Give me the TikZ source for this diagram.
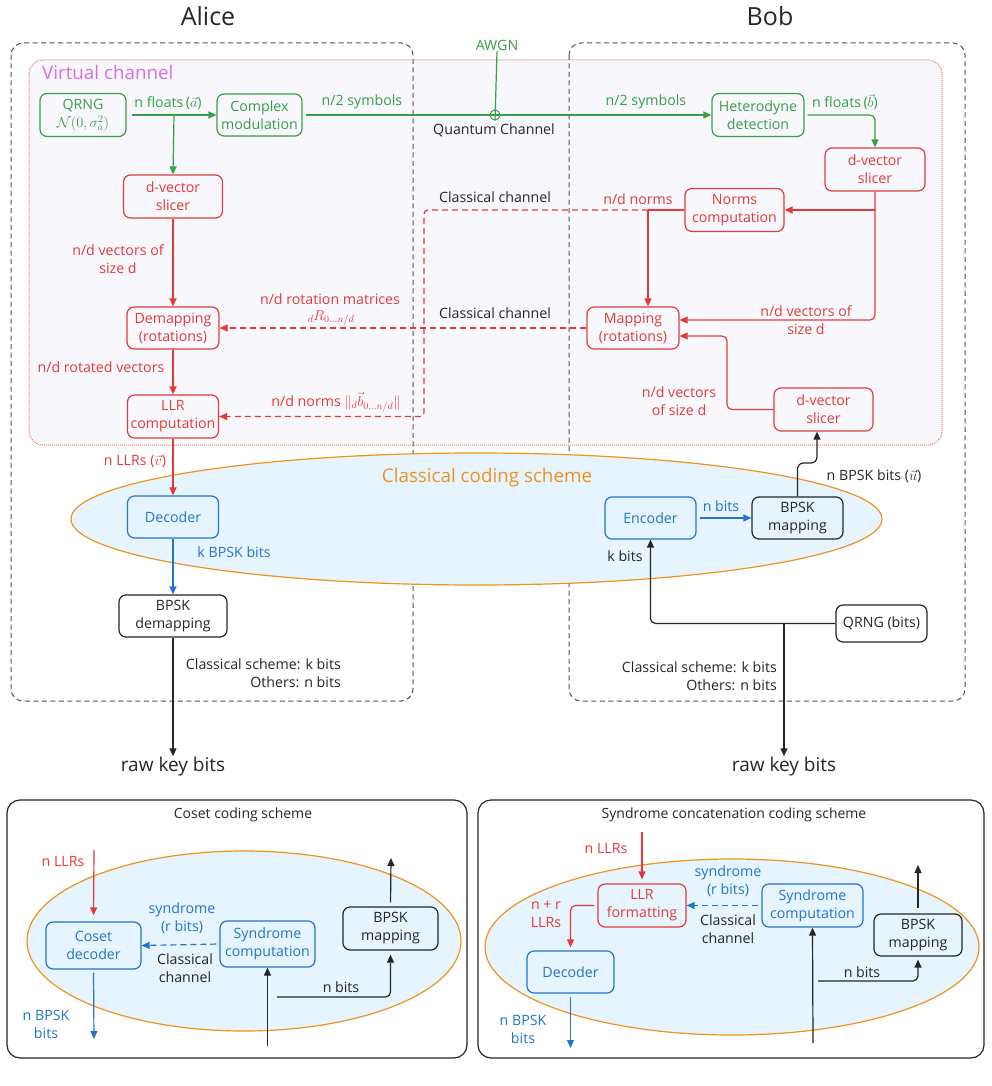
\documentclass[tikz,border=0pt]{standalone}
\usepackage{fontspec}
\setmainfont{Open Sans}
\usetikzlibrary{arrows.meta,calc}
\definecolor{cgreen}{RGB}{56,158,72}
\definecolor{cred}{RGB}{226,58,58}
\definecolor{cblue}{RGB}{36,116,200}
\definecolor{corange}{RGB}{240,146,30}
\definecolor{cviolet}{RGB}{214,110,232}
\definecolor{cdark}{RGB}{38,38,38}
\definecolor{cgray}{RGB}{85,85,85}
\definecolor{cpink}{RGB}{240,120,120}
\definecolor{cvfill}{RGB}{248,248,252}
\definecolor{cefill}{RGB}{230,244,253}
\newcommand\fmain{\fontsize{14.2}{18}\selectfont}
\newcommand\fsmall{\fontsize{14}{18}\selectfont}
\begin{document}
\begin{tikzpicture}[x=1pt,y=-1pt,
  sz/.style 2 args={minimum width=#1pt, minimum height=#2pt},
  box/.style={draw, rounded corners=7pt, line width=1.2pt, align=center, inner sep=1pt, font=\fmain},
  gbox/.style={box, draw=cgreen, text=cgreen},
  rbox/.style={box, draw=cred, text=cred},
  bbox/.style={box, draw=cblue, text=cblue},
  kbox/.style={box, draw=cdark, text=cdark},
  lbl/.style={font=\fmain, inner sep=1pt, align=center},
  tipa/.style={-{Triangle[length=8pt,width=7pt]}},
  dsh/.style={dash pattern=on 6pt off 4pt},
  gline/.style={draw=cgreen, line width=1.2pt},
  rline/.style={draw=cred, line width=1.2pt},
  bline/.style={draw=cblue, line width=1.2pt},
  kline/.style={draw=cdark, line width=1.2pt},
  garrow/.style={gline, tipa},
  rarrow/.style={rline, tipa},
  barrow/.style={bline, tipa},
  karrow/.style={kline, tipa},
]
\useasboundingbox (0,0) rectangle (991,1086);
\fill[white] (0,0) rectangle (991,1086);

% virtual channel
\draw[cpink, densely dotted, line width=1pt, fill=cvfill, rounded corners=14pt] (29,60) rectangle (942,445);
\node[font=\fontsize{18.8}{22}\selectfont, text=cviolet, anchor=west, inner sep=0] (vc) at (42,72) {Virtual channel};

% Alice / Bob boxes
\draw[cgray, dash pattern=on 5pt off 3.5pt, line width=1pt, rounded corners=12pt] (11,43) rectangle (413,701);
\draw[cgray, dash pattern=on 5pt off 3.5pt, line width=1pt, rounded corners=12pt] (569,43) rectangle (965,701);
\node[font=\fontsize{25}{28}\selectfont, text=cdark] (alice) at (208,16) {Alice};
\node[font=\fontsize{25}{28}\selectfont, text=cdark] (bob) at (770,16) {Bob};

% ellipse
\draw[corange, line width=1.2pt, fill=cefill] (476.5,519) ellipse [x radius=405.5, y radius=66];
\node[font=\fontsize{18.8}{22}\selectfont, text=corange] (ccs) at (487,478) {Classical coding scheme};

% green nodes
\node[gbox, sz={86}{43}] (qrng) at (83,115) {QRNG\\$\mathcal{N}(0,\sigma_a^2)$};
\node[gbox, sz={85}{42}] (cmod) at (259.5,115) {Complex\\modulation};
\node[gbox, sz={92}{43}] (het) at (758,115) {Heterodyne\\detection};
\node[draw=cgreen, line width=1pt, circle, inner sep=0, minimum size=10pt, fill=white] (awgnc) at (495,115) {};
\node[lbl, text=cgreen] (awgn) at (497,45) {AWGN};

% red nodes
\node[rbox, sz={99}{43}] (dslA) at (173,196.5) {d-vector\\slicer};
\node[rbox, sz={92}{42}] (demap) at (173,328) {Demapping\\(rotations)};
\node[rbox, sz={91}{43}] (llr) at (173,416.5) {LLR\\computation};
\node[rbox, sz={100}{43}] (dslB) at (875,169.5) {d-vector\\slicer};
\node[rbox, sz={99}{43}] (norms) at (734.5,210) {Norms\\computation};
\node[rbox, sz={92}{42}] (mapping) at (633,328) {Mapping\\(rotations)};
\node[rbox, sz={99}{43}] (dslC) at (823.5,409.5) {d-vector\\slicer};

% blue / black nodes
\node[bbox, sz={91}{42}] (dec) at (173,517) {Decoder};
\node[kbox, sz={108}{42}] (bdemap) at (173,616) {BPSK\\demapping};
\node[bbox, sz={91}{42}] (enc) at (650.5,518) {Encoder};
\node[kbox, sz={91}{42}] (bmap) at (797.5,518) {BPSK\\mapping};
\node[kbox, sz={91}{37}] (qrngb) at (881.5,623.5) {QRNG (bits)};
\node[font=\fontsize{19}{22}\selectfont, text=cdark, inner sep=1pt] (rawA) at (173,767) {raw key bits};
\node[font=\fontsize{19}{22}\selectfont, text=cdark, inner sep=1pt] (rawB) at (784,767) {raw key bits};

% green connectors
\coordinate (br1) at (174,115);
\draw[garrow, shorten <=5pt] (qrng.east) -- (cmod.west);
\draw[garrow] (br1) -- (dslA.north);
\draw[garrow, shorten <=3pt] (cmod.east) -- (het.west);
\draw[gline] (awgn.south) -- (awgnc.south);
\draw[garrow, shorten <=3pt, rounded corners=5pt] (het.east) -| (dslB.north);
\node[lbl, text=cgreen] at (168,103) {n floats\,($\vec{a}$)};
\node[lbl, text=cgreen] at (362,102) {n/2 symbols};
\node[lbl, text=cgreen] at (646,102) {n/2 symbols};
\node[lbl, text=cgreen] at (845,102) {n floats\,($\vec{b}$)};
\node[lbl, text=cdark] at (494,130) {Quantum Channel};

% red connectors
\draw[rarrow] (dslA.south) -- (demap.north);
\draw[rarrow] (demap.south) -- (llr.north);
\draw[rarrow] (llr.south) -- (dec.north);
\draw[rarrow, rounded corners=5pt] (dslB.south) |- ([yshift=8pt]mapping.east);
\draw[rarrow] (dslB.south |- norms.east) -- (norms.east);
\coordinate (nsplit) at (648,210);
\coordinate (cc1) at (424,210);
\draw[rline] (norms.west) -- (nsplit);
\draw[rarrow] (nsplit) -- (nsplit |- mapping.north);
\draw[rarrow, dsh, rounded corners=4pt] (nsplit) -- (cc1) |- (llr.east);
\draw[rarrow, dsh] (mapping.west) -- (demap.east);
\coordinate (cc2) at (727,409.5);
\draw[rarrow, rounded corners=5pt] (dslC.west) -- (cc2) |- ([yshift=-8pt]mapping.east);
\node[lbl, text=cdark] at (495,197) {Classical channel};
\node[lbl, text=cdark] at (495,313) {Classical channel};
\node[lbl, text=cred] at (638,199) {n/d norms};
\node[lbl, text=cred] at (806,320) {n/d vectors of\\size d};
\node[lbl, text=cred] at (679,401) {n/d vectors\\of size d};
\node[lbl, text=cred] at (118,259.5) {n/d vectors of\\size d};
\node[lbl, text=cred] at (330,299.5) {n/d rotation matrices};
\node[lbl, text=cred] at (331,318) {${}_dR_{0\ldots n/d}$};
\node[lbl, text=cred] at (101,367.5) {n/d rotated vectors};
\node[lbl, text=cred] at (336,402) {n/d norms $\|{}_d\vec{b}_{0\ldots n/d}\|$};
\node[lbl, text=cred] at (135,461) {n LLRs ($\vec{v}$)};

% blue / black connectors
\draw[barrow] (dec.south) -- (bdemap.north);
\draw[karrow] (bdemap.south) -- (rawA.north);
\draw[barrow, shorten <=3pt] (enc.east) -- (bmap.west);
\draw[karrow, rounded corners=6pt] (bmap.north) -- (797.5,463) -- (817,463) -- ([xshift=-6.5pt]dslC.south);
\draw[karrow, rounded corners=5pt] (qrngb.west) -| (enc.south);
\draw[karrow] (rawB.north |- qrngb.west) -- (rawB.north);
\node[lbl, text=cblue] at (234,552) {k BPSK bits};
\node[lbl, text=cblue] at (721,506) {n bits};
\node[lbl, text=cdark] at (625,556) {k bits};
\node[lbl, text=cdark] at (874,476) {n BPSK bits ($\vec{u}$)};
\node[lbl, text=cdark, align=right, anchor=east] at (342,673.5) {Classical scheme: k bits\\Others: n bits};
\node[lbl, text=cdark, align=right, anchor=east] at (778,676) {Classical scheme: k bits\\Others: n bits};

% ---------- bottom left panel ----------
\draw[cdark, line width=1.2pt, rounded corners=13pt] (7,800) rectangle (467,1058);
\node[lbl, font=\fsmall, text=cdark] (t1) at (243,815) {Coset coding scheme};
\draw[corange, line width=1.2pt, fill=cefill] (244,941) ellipse [x radius=217, y radius=90];
\node[bbox, sz={95}{47}] (cosdec) at (93.5,945.5) {Coset\\decoder};
\node[bbox, sz={95}{46}] (syn1) at (267.5,944) {Syndrome\\computation};
\node[kbox, sz={95}{43}] (bmap1) at (390.5,928.5) {BPSK\\mapping};
\coordinate (in1) at (94,850);
\coordinate (out1) at (94,1039);
\coordinate (up1) at (391,858);
\coordinate (src1) at (267.5,1046);
\coordinate (nb1) at (277,997);
\draw[rarrow, shorten >=6pt] (in1) -- (cosdec.north);
\draw[barrow, shorten <=3pt] (cosdec.south) -- (out1);
\draw[barrow, dsh, shorten <=3pt] (syn1.west) -- (cosdec.east);
\draw[karrow, shorten <=4pt] (bmap1.north) -- (up1);
\draw[karrow] (src1) -- (syn1.south);
\draw[karrow, rounded corners=5pt] (nb1) -| ([yshift=-4pt]bmap1.south);
\node[lbl, text=cred] at (63,861) {n LLRs};
\node[lbl, text=cblue] at (182,918) {syndrome\\(r bits)};
\node[lbl, text=cdark] at (185,968.5) {Classical\\channel};
\node[lbl, text=cdark] at (341,987) {n bits};
\node[lbl, text=cblue] at (46,1024) {n BPSK\\bits};

% ---------- bottom right panel ----------
\draw[cdark, line width=1.2pt, rounded corners=13pt] (478,800) rectangle (984,1058);
\node[lbl, font=\fsmall, text=cdark] (t2) at (734,815) {Syndrome concatenation coding scheme};
\draw[corange, line width=1.2pt, fill=cefill] (732,947) ellipse [x radius=247, y radius=88];
\node[rbox, sz={88}{43}] (llrf) at (642,905.5) {LLR\\formatting};
\node[bbox, sz={87}{42}] (dec2) at (570.5,972) {Decoder};
\node[bbox, sz={101}{43}] (syn2) at (812.5,905.5) {Syndrome\\computation};
\node[kbox, sz={88}{42}] (bmap2) at (918,935) {BPSK\\mapping};
\coordinate (in2) at (642,832);
\coordinate (out2) at (570.5,1048);
\coordinate (up2) at (918,865);
\coordinate (src2) at (813,1043);
\coordinate (nb2) at (818,981);
\draw[rarrow, shorten >=4pt] (in2) -- (llrf.north);
\draw[rarrow, rounded corners=5pt, shorten <=3pt, shorten >=3pt] (llrf.west) -| (dec2.north);
\draw[barrow, shorten <=3pt] (dec2.south) -- (out2);
\draw[barrow, dsh, shorten <=3pt] (syn2.west) -- (llrf.east);
\draw[karrow, shorten <=5pt] (bmap2.north) -- (up2);
\draw[karrow] (src2) -- (syn2.south);
\draw[karrow, rounded corners=5pt] (nb2) -| ([yshift=-3pt]bmap2.south);
\node[lbl, text=cred] at (606,848) {n LLRs};
\node[lbl, text=cblue] at (728,881) {syndrome\\(r bits)};
\node[lbl, text=cdark] at (728,929) {Classical\\channel};
\node[lbl, text=cred] at (546,914) {n + r\\LLRs};
\node[lbl, text=cblue] at (523,1029) {n BPSK\\bits};
\node[lbl, text=cdark] at (862,972) {n bits};
\end{tikzpicture}
\end{document}
